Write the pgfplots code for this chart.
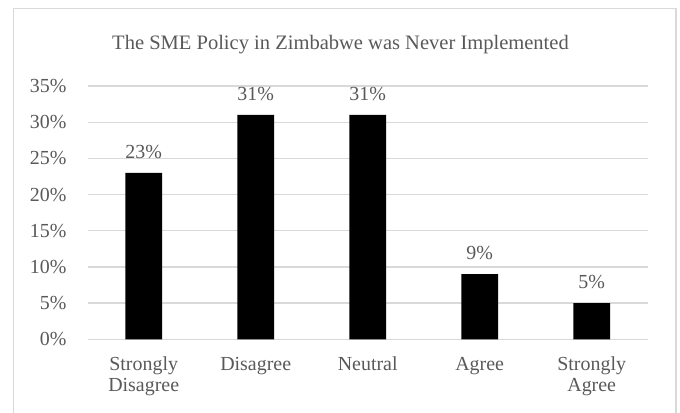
\documentclass[border=0pt]{standalone}
\usepackage{pgfplots}
\pgfplotsset{compat=1.18}
\usepackage{fontspec}
\setmainfont{Liberation Serif}
\definecolor{txt}{HTML}{595959}
\definecolor{grd}{HTML}{D9D9D9}
\begin{document}
\begin{tikzpicture}
\useasboundingbox (-87.7bp,-73.7bp) rectangle (592.3bp,339.3bp);
\draw[grd, line width=1.3bp] (-74.4bp,-90bp) -- (-74.4bp,331bp) -- (588.3bp,331bp) -- (588.3bp,-90bp);
\node[anchor=base, inner sep=0pt, text=txt, font=\fontsize{20.6}{24}\selectfont] at (252.8bp,289.3bp) {The SME Policy in Zimbabwe was Never Implemented};
\begin{axis}[
  at={(0bp,0bp)}, anchor=south west,
  scale only axis, width=560bp, height=253.3bp,
  xmin=-0.5, xmax=4.5, ymin=0, ymax=35,
  axis line style={draw=none},
  major tick length=0pt,
  ytick={0,5,...,35},
  yticklabel={\pgfmathprintnumber{\tick}\%},
  xtick={0,1,2,3,4},
  xticklabels={{\strut Strongly\\Disagree},{\strut Disagree},{\strut Neutral},{\strut Agree},{\strut Strongly\\Agree}},
  /pgf/number format/assume math mode=true,
  ymajorgrids, grid style={grd, line width=1.3bp},
  ticklabel style={text=txt, font=\fontsize{20}{21.7}\selectfont, inner sep=0pt},
  yticklabel style={anchor=east, xshift=-21bp},
  xticklabel style={align=center, anchor=north, yshift=-15.5bp},
  clip=false,
]
\addplot[ybar, bar width=36.7bp, fill=black, draw=none,
  point meta=y,
  nodes near coords={\pgfmathprintnumber{\pgfplotspointmeta}\%},
  every node near coord/.append style={anchor=base, inner sep=0pt, yshift=14.7bp, text=txt, font=\fontsize{20}{22}\selectfont}]
  coordinates {(0,23) (1,31) (2,31) (3,9) (4,5)};
\end{axis}
\end{tikzpicture}
\end{document}
